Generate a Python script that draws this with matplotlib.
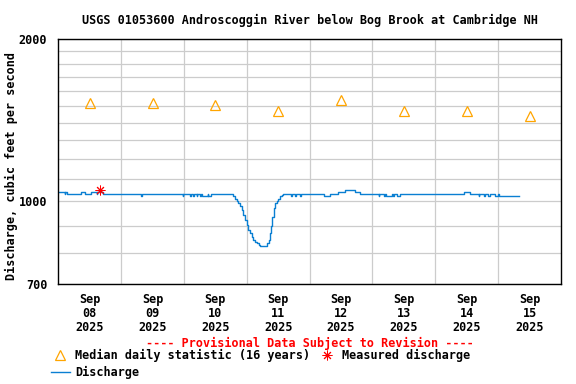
import matplotlib
matplotlib.use("Agg")
import matplotlib.pyplot as plt
import numpy as np

# ---- data ----
day_labels = ["Sep\n08\n2025", "Sep\n09\n2025", "Sep\n10\n2025", "Sep\n11\n2025",
              "Sep\n12\n2025", "Sep\n13\n2025", "Sep\n14\n2025", "Sep\n15\n2025"]
median_day_noon = [0.5, 1.5, 2.5, 3.5, 4.5, 5.5, 6.5, 7.5]
median_cfs = [1520, 1520, 1510, 1470, 1540, 1470, 1470, 1440]

measured_hour = [16.0]
measured_cfs = [1050]

# discharge (hours since Sep 08 00:00, cfs), drawn as steps
q_hours = [0, 2.4, 2.7, 3.4, 8.8, 10.1, 12.6, 14.6, 14.9, 17.1,
           31.6, 32.0,
           47.5, 47.8, 50.3, 50.6, 51.6, 51.9, 52.8, 53.1, 54.1, 54.6, 55.0, 57.0, 57.3, 58.5,
           66.3, 66.6, 67.5, 68.2, 68.8, 69.4, 70.1, 70.7, 71.4, 72.0, 72.6, 73.3, 73.9,
           74.5, 75.2, 75.8, 76.5, 77.1, 79.6, 80.3, 80.9, 81.3, 81.6, 82.2, 82.8, 83.5,
           84.1, 84.7, 85.4, 86.0,
           88.9, 89.2, 90.5, 90.8, 92.3, 92.6,
           101.3, 103.8, 107.0, 109.6, 113.4, 115.3,
           122.3, 122.6, 124.3, 124.6, 125.2, 127.5, 128.0, 128.3, 129.3, 130.6,
           154.8, 157.4,
           160.5, 160.8, 162.4, 163.1, 164.0, 165.0, 166.9, 168.0, 168.3, 175.8]
q_cfs = [1040, 1030, 1040, 1030, 1040, 1030, 1040, 1030, 1040, 1030,
         1020, 1030,
         1020, 1030, 1020, 1030, 1020, 1030, 1020, 1030, 1020, 1030, 1020, 1030, 1020, 1030,
         1030, 1020, 1010, 1000, 993, 981, 962, 942, 922, 903, 884, 871, 858,
         847, 840, 834, 830, 825, 834, 846, 871, 900, 935, 969, 991, 1000,
         1010, 1020, 1025, 1030,
         1020, 1030, 1020, 1030, 1020, 1030,
         1020, 1030, 1040, 1050, 1040, 1030,
         1020, 1030, 1020, 1030, 1020, 1030, 1020, 1030, 1020, 1030,
         1040, 1030,
         1020, 1030, 1020, 1030, 1020, 1030, 1020, 1030, 1020, 1020]

y_major = [700, 1000, 2000]
y_minor = [800, 900, 1100, 1200, 1300, 1400, 1500, 1600, 1700, 1800, 1900]

# ---- figure ----
FONT = "DejaVu Sans Mono"
FS = 8.5
plt.rcParams["font.family"] = FONT
plt.rcParams["font.weight"] = "bold"
plt.rcParams["font.size"] = FS

W, H = 576, 384
fig = plt.figure(figsize=(W / 100, H / 100), dpi=100)
ax = fig.add_axes([58.3 / W, 1 - 284.3 / H, (561 - 58.3) / W, (284.3 - 39.3) / H])

ax.set_yscale("log")
ax.set_ylim(700, 2000)
ax.set_xlim(0, 8)

ax.set_yticks(y_major)
ax.set_yticklabels([str(v) for v in y_major])
ax.set_yticks(y_minor, minor=True)
ax.yaxis.set_minor_formatter(matplotlib.ticker.NullFormatter())

ax.set_xticks(median_day_noon)
ax.set_xticklabels(day_labels, linespacing=1.12)
ax.set_xticks(np.arange(1, 8), minor=True)

ax.tick_params(axis="both", which="both", length=0)
ax.tick_params(axis="x", pad=6)
ax.tick_params(axis="y", pad=8)

ax.grid(axis="y", which="both", color="#cccccc", linewidth=0.9)
ax.grid(axis="x", which="minor", color="#cccccc", linewidth=0.9)
ax.grid(axis="x", which="major", visible=False)
ax.set_axisbelow(True)
for s in ax.spines.values():
    s.set_linewidth(1.0)
    s.set_color("black")

q_days = np.array(q_hours) / 24.0
line, = ax.plot(q_days, q_cfs, drawstyle="steps-post", color="#0a7fd2",
                linewidth=1.0, label="Discharge")
med, = ax.plot(median_day_noon, median_cfs, linestyle="none", marker="^",
               markersize=7, markerfacecolor="none", markeredgecolor="#ffa500",
               markeredgewidth=0.9, label="Median daily statistic (16 years)")
meas, = ax.plot(np.array(measured_hour) / 24.0, measured_cfs, linestyle="none",
                marker=(8, 2, 0), markersize=7, color="red", markeredgewidth=0.7,
                label="Measured discharge")

fig.text(309.5 / W, 1 - 20 / H,
         "USGS 01053600 Androscoggin River below Bog Brook at Cambridge NH",
         ha="center", va="center", fontsize=FS)
fig.text(11 / W, 1 - 165.5 / H, "Discharge, cubic feet per second",
         rotation=90, ha="center", va="center", fontsize=FS)
fig.text(309.5 / W, 1 - 343 / H, "---- Provisional Data Subject to Revision ----",
         ha="center", va="center", color="red", fontsize=FS)

fig.legend(handles=[med, line, meas], ncol=2, frameon=False,
           loc="upper left", bbox_to_anchor=(51 / W, 1 - 349 / H),
           borderpad=0, borderaxespad=0, handlelength=1.6, handletextpad=0.45,
           columnspacing=0.6, labelspacing=0.3, fontsize=FS)

fig.savefig("out.png", dpi=100)
